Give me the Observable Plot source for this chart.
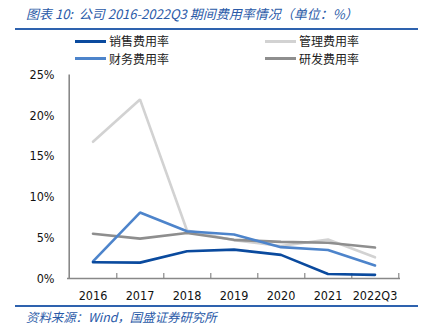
<!DOCTYPE html>
<html><head><meta charset="utf-8">
<script src="https://cdn.jsdelivr.net/npm/d3@7"></script>
<script src="https://cdn.jsdelivr.net/npm/@observablehq/plot@0.6"></script>
<style>
body{margin:0;background:#fff;}
#wrap{position:relative;width:427px;height:334px;overflow:hidden;font-family:"Noto Sans CJK SC",sans-serif;background:#fff;}
#title{position:absolute;left:26px;top:5px;font-size:13px;font-style:italic;color:#2a5aa8;white-space:nowrap;line-height:18px;}
.hr{position:absolute;left:15px;width:403px;background:#2e62ae;}
.item{position:absolute;display:flex;align-items:center;font-size:12px;color:#222;line-height:16px;white-space:nowrap;}
.swatch{width:31px;height:3px;margin-right:3px;}
#chart{position:absolute;left:0;top:64px;}
#source{position:absolute;left:26px;top:309px;font-size:12.4px;font-style:italic;color:#2a5aa8;white-space:nowrap;line-height:17px;}
</style></head>
<body><div id="wrap">
<div id="title">图表 10:&nbsp; 公司 2016-2022Q3 期间费用率情况（单位：%）</div>
<div class="hr" style="top:28px;height:2px;"></div>
<div id="legend"></div>
<div id="chart"></div>
<div class="hr" style="top:305px;height:1.5px;"></div>
<div id="source">资料来源：Wind，国盛证券研究所</div>
</div>
<script>
const categories = ["2016","2017","2018","2019","2020","2021","2022Q3"];
const yTicks = [0,5,10,15,20,25];
const seriesNames = ["销售费用率","管理费用率","财务费用率","研发费用率"];
const salesRate = [2.0, 1.95, 3.35, 3.55, 2.9, 0.55, 0.45];
const adminRate = [16.8, 22.0, 5.9, 4.7, 4.0, 4.8, 2.6];
const financeRate = [2.1, 8.1, 5.8, 5.4, 3.85, 3.5, 1.6];
const rdRate = [5.5, 4.9, 5.6, 4.75, 4.5, 4.4, 3.8];

const colors = {"销售费用率":"#0a4a9e","管理费用率":"#d2d2d2","财务费用率":"#4d84cb","研发费用率":"#8e8e8e"};
const valuesBy = {"销售费用率":salesRate,"管理费用率":adminRate,"财务费用率":financeRate,"研发费用率":rdRate};
const drawOrder = ["管理费用率","研发费用率","财务费用率","销售费用率"];
const data = drawOrder.flatMap(s => categories.map((c,i)=>({cat:c, series:s, value:valuesBy[s][i]})));

// legend
const legendPos = [[75,33],[265,33],[75,50.5],[265,50.5]];
const legendOrder = ["销售费用率","管理费用率","财务费用率","研发费用率"];
const legend = document.getElementById("legend");
legendOrder.forEach((s,i)=>{
  const d = document.createElement("div");
  d.className="item"; d.style.left=legendPos[i][0]+"px"; d.style.top=legendPos[i][1]+"px";
  d.innerHTML = `<span class="swatch" style="background:${colors[s]}"></span><span>${s}</span>`;
  legend.appendChild(d);
});

const W=427, mL=67, mR=27;
const bw=(W-mL-mR)/categories.length;
const chart = Plot.plot({
  width: W, height: 240,
  marginLeft: mL, marginRight: mR, marginTop: 10.5, marginBottom: 26,
  x: {type:"band", domain: categories, padding: 0},
  y: {domain:[0,25]},
  color: {domain: seriesNames, range: seriesNames.map(s=>colors[s])},
  style: {fontFamily:"'DejaVu Sans Condensed','DejaVu Sans',sans-serif", fontSize:"12.5px", color:"#111", background:"transparent"},
  marks: [
    Plot.axisY({ticks: yTicks, tickSize:0, tickPadding:13, tickFormat:d=>d+"%", label:null}),
    Plot.axisX({tickSize:0, tickPadding:13, label:null}),
    Plot.axisX({tickSize:5, dy:-5, dx: bw/2, tickFormat:()=>"", label:null, stroke:"#888", strokeWidth:1.2}),
    Plot.ruleY([0], {stroke:"#888", strokeWidth:1.6}),
    Plot.ruleX([categories[0]], {dx:-bw/2, stroke:"#888", strokeWidth:1.6}),
    Plot.line(data, {x:"cat", y:"value", z:"series", stroke:"series", strokeWidth:2.6, strokeLinejoin:"miter"})
  ]
});
document.getElementById("chart").appendChild(chart);
</script>
</body></html>
